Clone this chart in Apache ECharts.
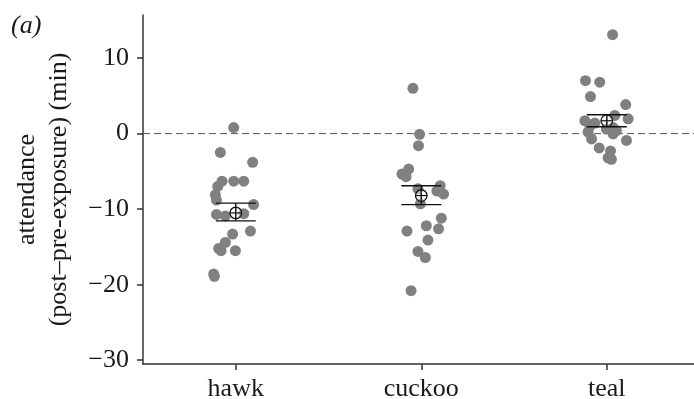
<!DOCTYPE html>
<html>
<head>
<meta charset="utf-8">
<script src="https://cdn.jsdelivr.net/npm/echarts@6/dist/echarts.min.js"></script>
<style>
  html, body { margin: 0; padding: 0; background: #fff; }
  #chart { width: 694px; height: 399px; }
</style>
</head>
<body>
<div id="chart"></div>
<script>
// Change in nest attendance after exposure, by model type
const categories = ['hawk', 'cuckoo', 'teal'];

// individual nests (min); jitter is the horizontal spread within a group
const hawkValues = [0.8, -2.5, -3.8, -6.3, -6.3, -6.3, -7.0, -8.1, -8.8, -9.4, -10.7, -10.9, -10.6, -13.3, -12.9, -14.4, -15.2, -15.5, -15.5, -18.6, -18.9];
const hawkJitter = [-0.011, -0.083, 0.091, -0.074, -0.011, 0.043, -0.097, -0.110, -0.104, 0.096, -0.104, -0.056, 0.043, -0.017, 0.079, -0.056, -0.092, -0.079, -0.002, -0.119, -0.115];

const cuckooValues = [6.0, -0.1, -1.6, -4.7, -5.35, -5.7, -6.9, -7.3, -7.6, -8.0, -9.3, -11.2, -12.2, -12.6, -12.9, -14.1, -15.6, -16.4, -20.8];
const cuckooJitter = [-0.045, -0.009, -0.015, -0.068, -0.104, -0.082, 0.102, -0.018, 0.084, 0.120, -0.005, 0.108, 0.027, 0.093, -0.077, 0.036, -0.018, 0.022, -0.055];

const tealValues = [13.1, 7.0, 6.8, 4.9, 3.85, 2.4, 1.7, 1.95, 1.4, 1.0, 0.8, 0.2, 0.6, 0.4, -0.05, -0.7, -0.9, -1.9, -2.3, -3.4, -3.2];
const tealJitter = [0.031, -0.115, -0.038, -0.088, 0.102, 0.043, -0.118, 0.115, -0.065, -0.091, 0.034, -0.101, -0.002, 0.052, 0.034, -0.082, 0.106, -0.041, 0.020, 0.025, 0.007];

// group mean with ± s.e.
const groupMeans = [-10.5, -8.2, 1.7];
const groupUpper = [-9.2, -6.9, 2.5];
const groupLower = [-11.55, -9.4, 0.9];

const yTicks = [-30, -20, -10, 0, 10];
const xTicks = [1, 2, 3];

const groups = [
  { values: hawkValues, jitter: hawkJitter },
  { values: cuckooValues, jitter: cuckooJitter },
  { values: tealValues, jitter: tealJitter }
];

const pointData = [];
groups.forEach((g, gi) => {
  g.values.forEach((v, i) => pointData.push([gi + 1 + g.jitter[i], v]));
});

const summaryData = categories.map((c, i) => [i + 1, groupLower[i], groupUpper[i], groupMeans[i]]);

const serif = '"Liberation Serif", "DejaVu Serif", serif';
const ink = '#1a1a1a';

const chart = echarts.init(document.getElementById('chart'), null, { renderer: 'canvas' });

chart.setOption({
  animation: false,
  backgroundColor: '#fff',
  title: {
    text: '(a)',
    left: 6,
    top: 8,
    textStyle: { fontFamily: serif, fontStyle: 'italic', fontWeight: 'normal', fontSize: 26, color: ink }
  },
  grid: { left: 143, right: 0, top: 15, bottom: 35, containLabel: false, outerBoundsMode: 'none' },
  xAxis: {
    type: 'value',
    min: 0.5,
    max: 3.47,
    splitLine: { show: false },
    axisLine: { onZero: false, lineStyle: { color: '#333', width: 1.5 } },
    axisTick: { show: true, customValues: xTicks, length: 6, lineStyle: { color: '#333', width: 1.5 } },
    axisLabel: {
      customValues: xTicks,
      formatter: v => categories[Math.round(v) - 1] || '',
      fontFamily: serif, fontSize: 26, color: ink, margin: 12
    }
  },
  yAxis: {
    type: 'value',
    min: -30.5,
    max: 15.7,
    splitLine: { show: false },
    axisLine: { show: true, onZero: false, lineStyle: { color: '#333', width: 1.5 } },
    axisTick: { show: true, customValues: yTicks, length: 6, lineStyle: { color: '#333', width: 1.5 } },
    axisLabel: {
      customValues: yTicks,
      formatter: v => String(v).replace('-', '\u2212'),
      fontFamily: serif, fontSize: 26, color: ink, margin: 14
    },
    name: 'attendance\n(post\u2013pre-exposure) (min)',
    nameLocation: 'middle',
    nameGap: 68,
    nameTextStyle: { fontFamily: serif, fontSize: 26, color: ink, lineHeight: 32 }
  },
  series: [
    {
      // zero reference line
      type: 'line',
      data: [[0.5, 0], [3.47, 0]],
      symbol: 'none',
      silent: true,
      lineStyle: { color: '#555', width: 1, type: [7, 4] },
      z: 1
    },
    {
      type: 'scatter',
      data: pointData,
      symbolSize: 11,
      itemStyle: { color: '#808080', opacity: 1 },
      z: 2
    },
    {
      type: 'custom',
      data: summaryData,
      z: 5,
      renderItem: (params, api) => {
        const x = api.value(0);
        const lo = api.coord([x, api.value(1)]);
        const hi = api.coord([x, api.value(2)]);
        const m = api.coord([x, api.value(3)]);
        const cap = 20;
        const r = 5.8;
        const stroke = { stroke: '#111', lineWidth: 1.4 };
        return {
          type: 'group',
          children: [
            { type: 'line', shape: { x1: lo[0], y1: lo[1], x2: hi[0], y2: hi[1] }, style: stroke },
            { type: 'line', shape: { x1: lo[0] - cap, y1: lo[1], x2: lo[0] + cap, y2: lo[1] }, style: stroke },
            { type: 'line', shape: { x1: hi[0] - cap, y1: hi[1], x2: hi[0] + cap, y2: hi[1] }, style: stroke },
            { type: 'circle', shape: { cx: m[0], cy: m[1], r: r }, style: { fill: 'rgba(255,255,255,0.45)', stroke: '#111', lineWidth: 1.3 } },
            { type: 'line', shape: { x1: m[0] - r, y1: m[1], x2: m[0] + r, y2: m[1] }, style: { stroke: '#111', lineWidth: 1.2 } },
            { type: 'line', shape: { x1: m[0], y1: m[1] - r, x2: m[0], y2: m[1] + r }, style: { stroke: '#111', lineWidth: 1.2 } }
          ]
        };
      }
    }
  ]
});
</script>
</body>
</html>
